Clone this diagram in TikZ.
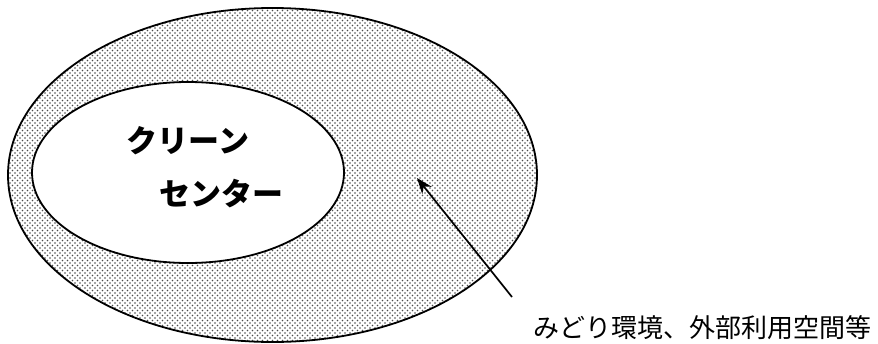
\documentclass[tikz,border=0pt]{standalone}
\usepackage{fontspec}
\newfontfamily\jp{Noto Sans CJK JP}
\usetikzlibrary{shapes.geometric,patterns,arrows.meta}
\pgfdeclarepatternformonly{refdots}{\pgfqpoint{-1pt}{-1pt}}{\pgfqpoint{6pt}{6pt}}{\pgfqpoint{5pt}{5pt}}{%
  \pgfpathcircle{\pgfqpoint{0pt}{0pt}}{0.8pt}%
  \pgfpathcircle{\pgfqpoint{2.5pt}{2.5pt}}{0.8pt}%
  \pgfusepath{fill}}
\tikzset{
  ring/.style={ellipse, draw=black, line width=1.8pt, inner sep=0pt, outer sep=0pt},
  bigtxt/.style={font=\jp\bfseries\fontsize{31pt}{36pt}\selectfont, inner sep=0pt},
  lbltxt/.style={font=\jp\fontsize{26pt}{30pt}\selectfont, inner sep=0pt},
  pointer/.style={line width=1.7pt, -{Stealth[length=16pt,width=12pt]}}
}
\begin{document}
\begin{tikzpicture}[x=1pt,y=-1pt]
\useasboundingbox (0,0) rectangle (878,343);
\node[ring, minimum width=529pt, minimum height=334pt, pattern=refdots, pattern color=black!70] (outer) at (272.5,175) {};
\node[ring, fill=white, minimum width=312pt, minimum height=181pt] (inner) at (188,172.5) {};
\node[bigtxt] (t1) at (188,141) {クリーン};
\node[bigtxt] (t2) at (221,194) {センター};
\node[lbltxt] (lbl) at (702,328) {みどり環境、外部利用空間等};
\coordinate (tail) at (512,297);
\coordinate (head) at (417,178);
\draw[pointer] (tail) -- (head);
\end{tikzpicture}
\end{document}
